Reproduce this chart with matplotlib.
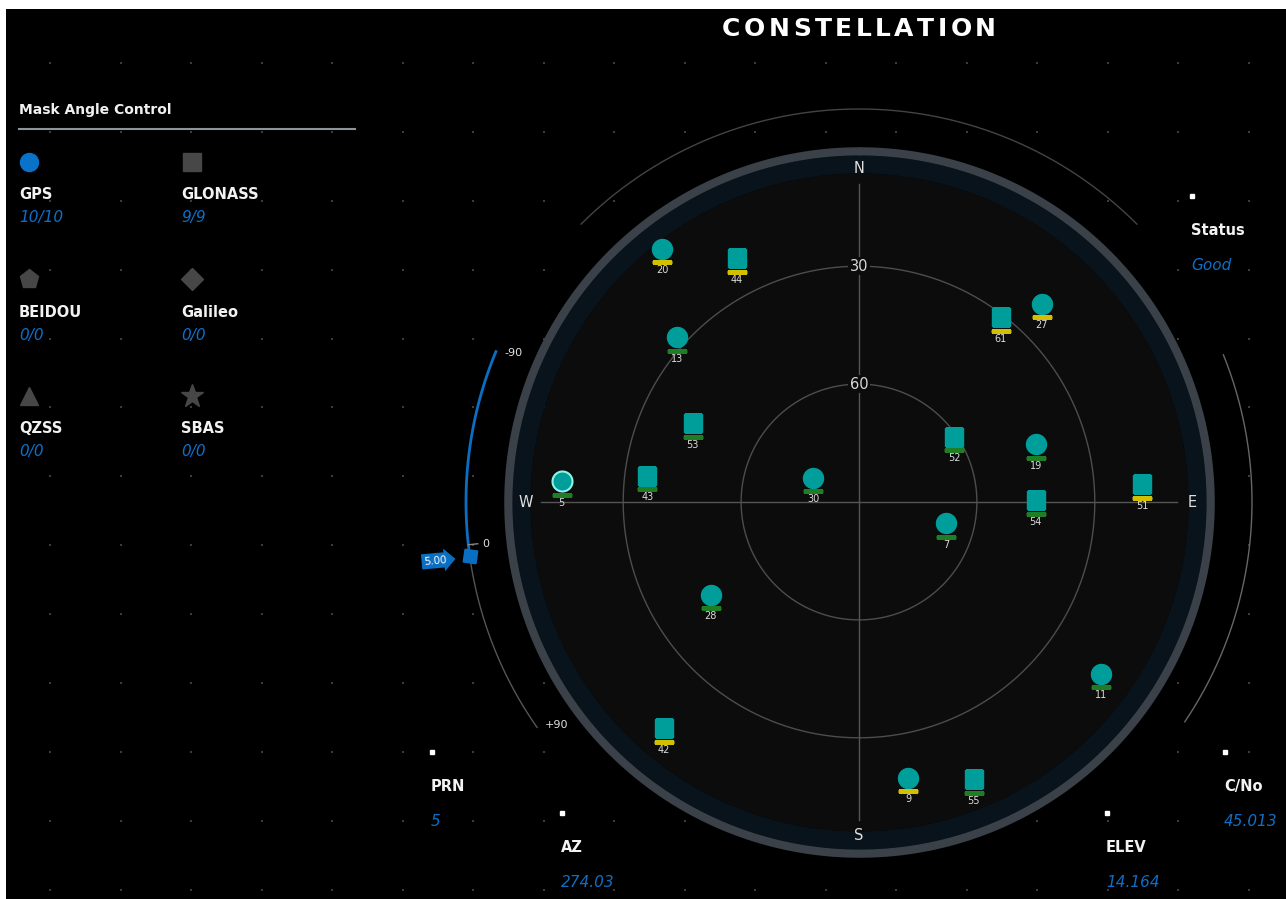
import matplotlib
matplotlib.use('Agg')
import matplotlib.pyplot as plt
import matplotlib.transforms as mtransforms
import numpy as np

# GPS satellites: PRN, azimuth (deg), elevation (deg), signal level
gps_prn = [20, 13, 27, 19, 30, 7, 5, 28, 11, 9]
gps_az = [322.1, 312.2, 42.7, 71.9, 297.6, 103.6, 274.03, 237.9, 125.4, 169.9]
gps_el = [8.4, 27.5, 21.4, 42.6, 76.8, 67.2, 14.164, 45.5, 14.5, 18.7]
gps_sig = ['low', 'high', 'low', 'high', 'high', 'high', 'high', 'high', 'high', 'low']

# GLONASS satellites
glo_prn = [44, 61, 53, 52, 43, 54, 51, 42, 55]
glo_az = [333.4, 37.5, 295.4, 55.6, 277.0, 89.4, 86.4, 220.8, 157.5]
glo_el = [20.6, 30.7, 43.2, 60.7, 35.7, 45.0, 17.8, 14.0, 13.7]
glo_sig = ['low', 'low', 'high', 'high', 'high', 'high', 'low', 'low', 'high']

# constellation counts (used / visible)
systems = ['GPS', 'GLONASS', 'BEIDOU', 'Galileo', 'QZSS', 'SBAS']
sys_used = [10, 9, 0, 0, 0, 0]
sys_total = [10, 9, 0, 0, 0, 0]

mask_angle = 5.00
status = 'Good'
sel_prn = 5
sel_az = '274.03'
sel_el = '14.164'
sel_cno = '45.013'

W, H = 1286, 899
teal = '#009e9a'
blue = '#0f6fc6'
sig_col = {'low': '#d2bf00', 'high': '#1f7d24'}

fig = plt.figure(figsize=(W / 100, H / 100), dpi=100, facecolor='white')

# background panel in pixel coordinates
bg = fig.add_axes([6 / W, 0, (W - 6) / W, (H - 9) / H])
bg.set_facecolor('black')
bg.set_xlim(6, W)
bg.set_ylim(H, 9)
bg.set_xticks([])
bg.set_yticks([])
for s in bg.spines.values():
    s.set_visible(False)

gx = 50 + 70.5 * np.arange(18)
gy = 63 + 68.9 * np.arange(13)
X, Y = np.meshgrid(gx, gy)
bg.scatter(X.ravel(), Y.ravel(), s=3, c='#3c3c3c', marker='s', lw=0)

# title with letter spacing
renderer = fig.canvas.get_renderer()
title = 'CONSTELLATION'
chars = [bg.text(0, 29, ch, fontsize=18, fontweight='bold', color='white', va='center', ha='left')
         for ch in title]
widths = [t.get_window_extent(renderer).width for t in chars]
gap = (274 - sum(widths)) / (len(title) - 1)
x = 722
for t, w in zip(chars, widths):
    t.set_x(x)
    x += w + gap

# left panel
bg.text(19, 110, 'Mask Angle Control', fontsize=10, fontweight='bold', color='#f0f0f0', va='center')
bg.plot([19, 355], [129, 129], color='#8d949c', lw=1.5)

icon_mk = ['o', 's', 'p', 'D', '^', '*']
icon_ms = [13, 12.5, 14, 11, 13, 17]
for i, name in enumerate(systems):
    col, row = i % 2, i // 2
    ix = [29, 192][col]
    tx = [19, 181][col]
    iy = [162, 279, 396][row]
    ly = [195, 313, 429][row]
    vy = [218, 336, 452][row]
    c = '#0a72c9' if name == 'GPS' else '#474747'
    bg.plot(ix, iy, marker=icon_mk[i], ms=icon_ms[i], color=c, mec=c, ls='none')
    bg.text(tx, ly, name, fontsize=10.5, fontweight='bold', color='#f2f2f2', va='center')
    bg.text(tx, vy, f'{sys_used[i]}/{sys_total[i]}', fontsize=11, style='italic', color=blue, va='center')

# info fields
fields = [('Status', status, 1192, 196), ('PRN', str(sel_prn), 432, 752), ('AZ', sel_az, 562, 813),
          ('ELEV', sel_el, 1107, 813), ('C/No', sel_cno, 1225, 752)]
for name, val, fx, fy in fields:
    bg.plot(fx, fy, marker='s', ms=3, color='white', ls='none')
    bg.text(fx - 1, fy + 35, name, fontsize=10.5, fontweight='bold', color='#f2f2f2', va='center')
    bg.text(fx - 1, fy + 70, val, fontsize=11, style='italic', color=blue, va='center')

# sky plot
cx, cy = 859, 502
pxdeg = 3.93
rmax = 115
R = rmax * pxdeg
ax = fig.add_axes([(cx - R) / W, (H - cy - R) / H, 2 * R / W, 2 * R / H], projection='polar')
ax.set_theta_zero_location('N')
ax.set_theta_direction(-1)
ax.set_ylim(0, rmax)
ax.axis('off')

th = np.linspace(0, 2 * np.pi, 721)
ax.fill_between(th, 0, 83.7, color='#0c0c0c', lw=0, zorder=0)
ax.fill_between(th, 83.7, 88.3, color='#08131b', lw=0, zorder=0)
ax.fill_between(th, 88.3, 90.4, color='#3b4148', lw=0, zorder=0)

for rr in [30, 60]:
    ax.plot(th, np.full_like(th, rr), color='#4d4d4d', lw=1, zorder=1)
for a in [0, 90, 180, 270]:
    ax.plot([np.radians(a), np.radians(a)], [0, 81], color='#555555', lw=1, zorder=1)

for d, a in zip(['N', 'E', 'S', 'W'], [0, 90, 180, 270]):
    ax.text(np.radians(a), 84.8, d, ha='center', va='center', color='#e0e0e0', fontsize=10.5, zorder=3)
for el in [30, 60]:
    ax.text(0, 90 - el, str(el), ha='center', va='center', color='#d8d8d8', fontsize=10.5, zorder=3,
            bbox=dict(fc='#0c0c0c', ec='none', pad=1))

# outer arcs
ta = np.radians(np.linspace(-45, 45, 200))
ax.plot(ta, np.full_like(ta, 100), color='#444444', lw=1)
ta = np.radians(np.linspace(68, 124, 200))
ax.plot(ta, np.full_like(ta, 100), color='#666666', lw=1)

# mask angle slider
def slider_az(v):
    return 292.5 + (v + 90) / 180 * (235.0 - 292.5)

ta = np.radians(np.linspace(slider_az(-90), slider_az(mask_angle), 100))
ax.plot(ta, np.full_like(ta, 100), color='#0a6fc2', lw=2)
ta = np.radians(np.linspace(slider_az(mask_angle), slider_az(90), 100))
ax.plot(ta, np.full_like(ta, 100), color='#555555', lw=1)
ax.plot([np.radians(slider_az(0))] * 2, [97.6, 100], color='#888888', lw=1)
for v, lab, da in zip([-90, 0, 90], ['-90', '0', '+90'], [0.8, -0.2, -1.4]):
    ax.text(np.radians(slider_az(v) + da), 95.7, lab, ha='center', va='center', color='#e0e0e0', fontsize=8)
hth = np.radians(slider_az(mask_angle))
ax.plot(hth, 100, marker=(4, 0, 37), ms=13, color='#0a6fc2', ls='none', zorder=5)
flag_tr = mtransforms.offset_copy(ax.transData, fig=fig, x=-34, y=-5, units='dots')
ax.text(hth, 100, f'{mask_angle:.2f}', transform=flag_tr, ha='center', va='center', color='white',
        fontsize=7.5, rotation=5, zorder=5,
        bbox=dict(boxstyle='rarrow,pad=0.25', fc='#0a6fc2', ec='none'))

# satellites
under_tr = mtransforms.offset_copy(ax.transData, fig=fig, x=0, y=-13.5, units='dots')
label_tr = mtransforms.offset_copy(ax.transData, fig=fig, x=0, y=-21.5, units='dots')
for prns, azs, els, sigs, mk, ms in [(gps_prn, gps_az, gps_el, gps_sig, 'o', 14.4),
                                      (glo_prn, glo_az, glo_el, glo_sig, 's', 13.6)]:
    for p, a, e, sg in zip(prns, azs, els, sigs):
        t, r = np.radians(a), 90 - e
        if p == sel_prn and mk == 'o':
            ax.plot(t, r, marker=mk, ms=ms, color=teal, mec='#8ff3e6', mew=1.5, ls='none', zorder=4)
        else:
            ax.plot(t, r, marker=mk, ms=ms, color=teal, mec=teal, ls='none', zorder=4)
        ax.plot(t, r, marker='_', ms=14.4, mew=2.2, color=sig_col[sg], transform=under_tr, ls='none', zorder=4)
        ax.text(t, r, str(p), transform=label_tr, ha='center', va='center', fontsize=7, color='#dcdcdc', zorder=4)

fig.savefig('out.png', dpi=100, facecolor=fig.get_facecolor())
